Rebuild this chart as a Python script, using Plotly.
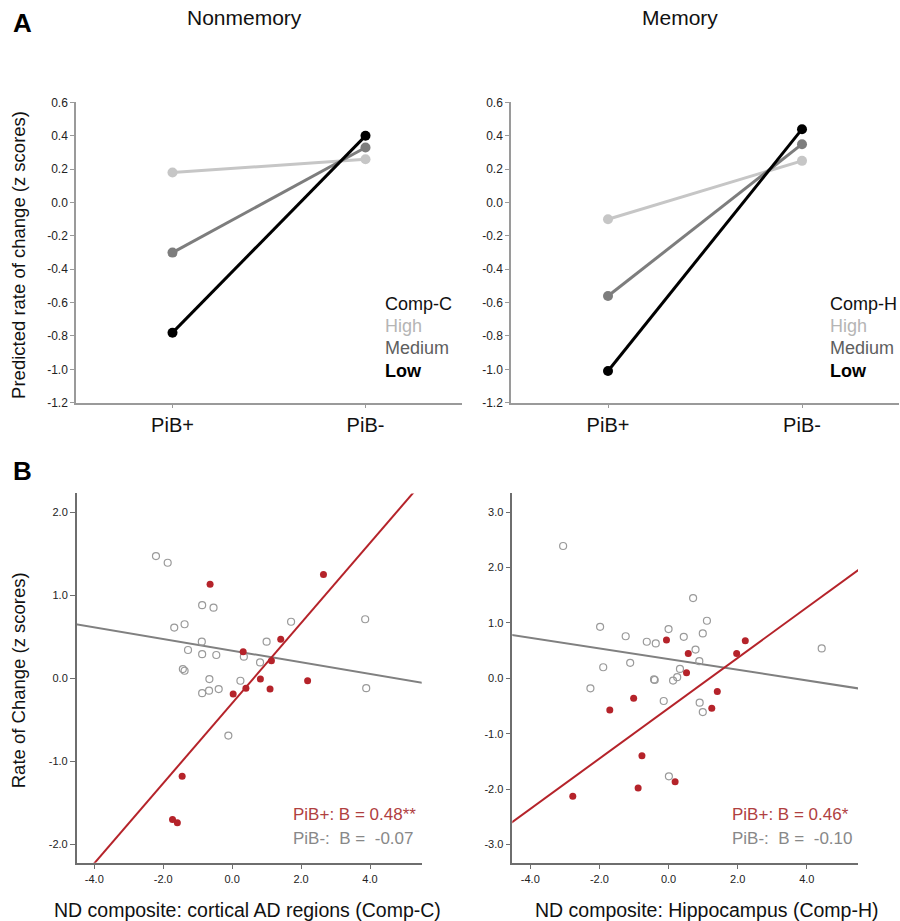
import plotly.graph_objects as go

# ---------------- Data ----------------
categories = ["PiB+", "PiB-"]

nonmem_high = [0.18, 0.26]
nonmem_medium = [-0.30, 0.33]
nonmem_low = [-0.78, 0.40]

mem_high = [-0.10, 0.25]
mem_medium = [-0.56, 0.35]
mem_low = [-1.01, 0.44]

a_yticks = [0.6, 0.4, 0.2, 0.0, -0.2, -0.4, -0.6, -0.8, -1.0, -1.2]
a_yticktext = ["0.6", "0.4", "0.2", "0.0", "-0.2", "-0.4", "-0.6", "-0.8", "-1.0", "-1.2"]

# Panel B, Comp-C
compc_neg_x = [-2.21, -1.87, -0.87, -0.54, -1.68, -1.38, -0.88, -1.28, -0.87, -0.46, -1.43, -1.38,
               -0.66, -0.87, -0.67, -0.39, 0.24, 0.34, 0.81, 1.00, 1.71, 3.86, 3.89, -0.11]
compc_neg_y = [1.47, 1.39, 0.88, 0.85, 0.61, 0.65, 0.44, 0.34, 0.29, 0.28, 0.11, 0.09,
               -0.01, -0.18, -0.15, -0.13, -0.03, 0.26, 0.19, 0.44, 0.68, 0.71, -0.12, -0.69]
compc_pos_x = [-0.64, 2.65, 1.41, 0.32, 1.14, 0.82, 1.10, 0.40, 0.03, 2.19, -1.45, -1.73, -1.59]
compc_pos_y = [1.13, 1.25, 0.47, 0.32, 0.21, -0.01, -0.13, -0.12, -0.19, -0.03, -1.18, -1.70, -1.74]

# Panel B, Comp-H
comph_neg_x = [-3.05, 0.71, 1.11, -1.98, 0.00, 0.99, -1.24, 0.44, -0.63, -0.37, 0.78, 4.43, 0.89,
               -1.11, -1.89, 0.33, 0.25, 0.13, -0.42, -0.40, -2.26, -0.14, 0.90, 0.99, 0.01]
comph_neg_y = [2.39, 1.45, 1.04, 0.93, 0.89, 0.81, 0.76, 0.75, 0.66, 0.63, 0.52, 0.54, 0.31,
               0.28, 0.20, 0.17, 0.02, -0.04, -0.02, -0.03, -0.18, -0.41, -0.44, -0.61, -1.77]
comph_pos_x = [-0.06, 0.57, 1.97, 2.22, 0.52, 1.41, 1.25, -1.01, -1.70, -0.77, -0.88, 0.19, -2.77]
comph_pos_y = [0.69, 0.45, 0.45, 0.68, 0.10, -0.24, -0.54, -0.36, -0.57, -1.40, -1.98, -1.87, -2.13]

# Regression fits (intercept, slope)
compc_pos_fit = [-0.30, 0.482]
compc_neg_fit = [0.332, -0.070]
comph_pos_fit = [-0.54, 0.455]
comph_neg_fit = [0.347, -0.0965]

b_xticks = [-4.0, -2.0, 0.0, 2.0, 4.0]
b_xticktext = ["-4.0", "-2.0", "0.0", "2.0", "4.0"]
bc_yticks = [2.0, 1.0, 0.0, -1.0, -2.0]
bc_yticktext = ["2.0", "1.0", "0.0", "-1.0", "-2.0"]
bh_yticks = [3.0, 2.0, 1.0, 0.0, -1.0, -2.0, -3.0]
bh_yticktext = ["3.0", "2.0", "1.0", "0.0", "-1.0", "-2.0", "-3.0"]

# ---------------- Styling ----------------
FONT = "Liberation Sans, Arial, Helvetica, sans-serif"
C_HIGH = "#c6c6c6"
C_MED = "#7d7d7d"
C_LOW = "#000000"
RED = "#b5232a"
GRAY_LINE = "#808080"
GRAY_PT = "#9a9a9a"

W, H = 900, 921
# empirical vertical mapping of the capture: shown_y ~ OFF + SCALE * layout_y
OFF, SCALE = 7.3, 0.984


def px_x(p):
    return p / W


def px_y(p):
    return 1 - ((p - OFF) / SCALE) / H


fig = go.Figure()

# Panel A traces
for xa, ya, series in [("x", "y", [(nonmem_high, C_HIGH), (nonmem_medium, C_MED), (nonmem_low, C_LOW)]),
                       ("x2", "y2", [(mem_high, C_HIGH), (mem_medium, C_MED), (mem_low, C_LOW)])]:
    for vals, col in series:
        fig.add_trace(go.Scatter(
            x=categories, y=vals, mode="lines+markers",
            line=dict(color=col, width=3), marker=dict(color=col, size=10),
            xaxis=xa, yaxis=ya, showlegend=False, hoverinfo="skip"))


# Panel B traces
def add_panel_b(xa, ya, nx, ny, pxs, pys, pos_fit, neg_fit):
    xr = [-4.6, 5.6]
    fig.add_trace(go.Scatter(
        x=xr, y=[neg_fit[0] + neg_fit[1] * v for v in xr], mode="lines",
        line=dict(color=GRAY_LINE, width=2), xaxis=xa, yaxis=ya,
        showlegend=False, hoverinfo="skip"))
    fig.add_trace(go.Scatter(
        x=xr, y=[pos_fit[0] + pos_fit[1] * v for v in xr], mode="lines",
        line=dict(color=RED, width=2), xaxis=xa, yaxis=ya,
        showlegend=False, hoverinfo="skip"))
    fig.add_trace(go.Scatter(
        x=nx, y=ny, mode="markers",
        marker=dict(symbol="circle-open", color=GRAY_PT, size=7, line=dict(width=1.2)),
        xaxis=xa, yaxis=ya, showlegend=False, hoverinfo="skip", cliponaxis=False))
    fig.add_trace(go.Scatter(
        x=pxs, y=pys, mode="markers",
        marker=dict(symbol="circle", color=RED, size=7),
        xaxis=xa, yaxis=ya, showlegend=False, hoverinfo="skip", cliponaxis=False))


add_panel_b("x3", "y3", compc_neg_x, compc_neg_y, compc_pos_x, compc_pos_y, compc_pos_fit, compc_neg_fit)
add_panel_b("x4", "y4", comph_neg_x, comph_neg_y, comph_pos_x, comph_pos_y, comph_pos_fit, comph_neg_fit)

a_axis_common = dict(showgrid=False, zeroline=False, showline=True, linecolor="#9a9a9a", linewidth=1.5,
                     ticks="outside", ticklen=4, tickcolor="#9a9a9a", mirror=False)

b_axis_common = dict(showgrid=False, zeroline=False, showline=True, linecolor="#6e6e6e", linewidth=1.5,
                     ticks="outside", ticklen=5, tickcolor="#6e6e6e", tickwidth=1.2, mirror=False)

ya_dom = [px_y(402.7), px_y(102.7)]
yb_dom = [px_y(862.3), px_y(493.3)]

layout_axes = dict(
    xaxis=dict(domain=[px_x(76), px_x(462)], range=[-0.5, 1.5], type="category", anchor="y",
               tickfont=dict(size=20, color="#111", family=FONT), **a_axis_common),
    yaxis=dict(domain=ya_dom, range=[-1.2, 0.6], anchor="x", tickvals=a_yticks, ticktext=a_yticktext,
               tickfont=dict(size=12, color="#222", family=FONT), **a_axis_common),
    xaxis2=dict(domain=[px_x(511), px_x(899)], range=[-0.5, 1.5], type="category", anchor="y2",
                tickfont=dict(size=20, color="#111", family=FONT), **a_axis_common),
    yaxis2=dict(domain=ya_dom, range=[-1.2, 0.6], anchor="x2", tickvals=a_yticks, ticktext=a_yticktext,
                tickfont=dict(size=12, color="#222", family=FONT), **a_axis_common),
    xaxis3=dict(domain=[px_x(76.7), px_x(421.7)], range=[-4.51, 5.5], anchor="y3",
                tickvals=b_xticks, ticktext=b_xticktext,
                tickfont=dict(size=11, color="#222", family=FONT), **b_axis_common),
    yaxis3=dict(domain=yb_dom, range=[-2.22, 2.225], anchor="x3",
                tickvals=bc_yticks, ticktext=bc_yticktext,
                tickfont=dict(size=11, color="#222", family=FONT), **b_axis_common),
    xaxis4=dict(domain=[px_x(512.3), px_x(858)], range=[-4.52, 5.48], anchor="y4",
                tickvals=b_xticks, ticktext=b_xticktext,
                tickfont=dict(size=11, color="#222", family=FONT), **b_axis_common),
    yaxis4=dict(domain=yb_dom, range=[-3.33, 3.34], anchor="x4",
                tickvals=bh_yticks, ticktext=bh_yticktext,
                tickfont=dict(size=11, color="#222", family=FONT), **b_axis_common),
)


def ann(text, x, y, size, color="#111", xanchor="center", angle=0, bold=False):
    t = f"<b>{text}</b>" if bold else text
    return dict(text=t, x=px_x(x), y=px_y(y), xref="paper", yref="paper",
                xanchor=xanchor, yanchor="middle", showarrow=False, textangle=angle,
                font=dict(size=size, color=color, family=FONT))


annotations = [
    ann("A", 22, 23, 26, "#000", bold=True),
    ann("B", 22, 471, 26, "#000", bold=True),
    ann("Nonmemory", 245, 18, 21, "#111"),
    ann("Memory", 680, 18, 21, "#111"),
    ann("Predicted rate of change (z scores)", 19, 255, 18.5, "#111", angle=-90),
    ann("Rate of Change (z scores)", 18, 680, 18.5, "#111", angle=-90),
    ann("ND composite: cortical AD regions (Comp-C)", 247, 910, 19.5, "#111"),
    ann("ND composite: Hippocampus (Comp-H)", 707, 910, 19.5, "#111"),
    # Panel A legends
    ann("Comp-C", 383, 304, 18, "#111", xanchor="left"),
    ann("High", 383, 326, 18, "#b5b5b5", xanchor="left"),
    ann("Medium", 383, 348, 18, "#5e5e5e", xanchor="left"),
    ann("Low", 383, 371, 18, "#000", xanchor="left", bold=True),
    ann("Comp-H", 828, 304, 18, "#111", xanchor="left"),
    ann("High", 828, 326, 18, "#b5b5b5", xanchor="left"),
    ann("Medium", 828, 348, 18, "#5e5e5e", xanchor="left"),
    ann("Low", 828, 371, 18, "#000", xanchor="left", bold=True),
    # Panel B stats
    ann("PiB+: B = 0.48**", 291, 814, 17, "#b0403f", xanchor="left"),
    ann("PiB-:  B =  -0.07", 291, 838, 17, "#888888", xanchor="left"),
    ann("PiB+: B = 0.46*", 730, 814, 17, "#b0403f", xanchor="left"),
    ann("PiB-:  B =  -0.10", 730, 838, 17, "#888888", xanchor="left"),
]

fig.update_layout(
    width=W, height=H,
    margin=dict(l=0, r=0, t=0, b=0),
    paper_bgcolor="white", plot_bgcolor="white",
    font=dict(family=FONT),
    showlegend=False,
    annotations=annotations,
    **layout_axes,
)

fig.write_html(
    "out.html",
    config={"displayModeBar": False},
    post_script="document.body.style.margin='0';document.body.style.padding='0';"
                "document.documentElement.style.overflow='hidden';",
)
